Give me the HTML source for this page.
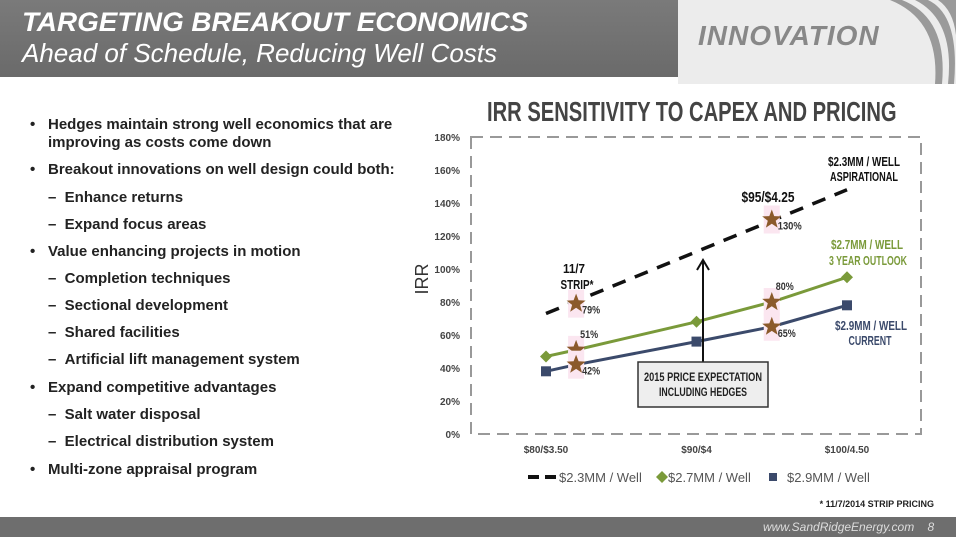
<!DOCTYPE html>
<html><head><meta charset="utf-8"><style>
body{margin:0;width:956px;height:537px;overflow:hidden;background:#fff;font-family:"Liberation Sans",sans-serif;position:relative}
.t{position:absolute;white-space:nowrap}
.b{font-size:15px;font-weight:bold;color:#222;line-height:18px}
</style></head><body>
<div style="position:absolute;left:0;top:0;width:700px;height:77px;background:linear-gradient(#7a7a7a,#6a6a6a)"></div>
<div style="position:absolute;left:678px;top:0;width:278px;height:84px;background:#ececec"></div>
<svg style="position:absolute;left:880px;top:0" width="76" height="84"><path d="M10 0 Q60 20 55 84 L62 84 Q68 18 22 0Z M35 0 Q75 20 68 84 L74 84 Q80 15 48 0Z M58 0 Q80 15 76 60 L76 0Z" fill="#9a9a9a"/></svg>
<div class="t" style="left:698px;top:20px;font-size:28px;font-weight:bold;font-style:italic;color:#888;letter-spacing:1px">INNOVATION</div>
<div class="t" style="left:22px;top:7px;font-size:27px;font-weight:bold;font-style:italic;color:#fff;transform:scaleX(1.03);transform-origin:left">TARGETING BREAKOUT ECONOMICS</div>
<div class="t" style="left:22px;top:38px;font-size:26px;font-style:italic;color:#fff">Ahead of Schedule, Reducing Well Costs</div>

<div>
<div class="t b" style="left:30px;top:116px">•</div><div class="t b" style="left:48px;top:116px">Hedges maintain strong well economics that are</div>
<div class="t b" style="left:48px;top:134px">improving as costs come down</div>
<div class="t b" style="left:30px;top:161px">•</div><div class="t b" style="left:48px;top:161px">Breakout innovations on well design could both:</div>
<div class="t b" style="left:48px;top:189px">–&nbsp;&nbsp;Enhance returns</div>
<div class="t b" style="left:48px;top:216px">–&nbsp;&nbsp;Expand focus areas</div>
<div class="t b" style="left:30px;top:243px">•</div><div class="t b" style="left:48px;top:243px">Value enhancing projects in motion</div>
<div class="t b" style="left:48px;top:270px">–&nbsp;&nbsp;Completion techniques</div>
<div class="t b" style="left:48px;top:297px">–&nbsp;&nbsp;Sectional development</div>
<div class="t b" style="left:48px;top:324px">–&nbsp;&nbsp;Shared facilities</div>
<div class="t b" style="left:48px;top:351px">–&nbsp;&nbsp;Artificial lift management system</div>
<div class="t b" style="left:30px;top:379px">•</div><div class="t b" style="left:48px;top:379px">Expand competitive advantages</div>
<div class="t b" style="left:48px;top:406px">–&nbsp;&nbsp;Salt water disposal</div>
<div class="t b" style="left:48px;top:433px">–&nbsp;&nbsp;Electrical distribution system</div>
<div class="t b" style="left:30px;top:461px">•</div><div class="t b" style="left:48px;top:461px">Multi-zone appraisal program</div>
</div>

<div class="t" style="left:487px;top:96px;font-size:28px;font-weight:bold;color:#444;transform:scaleX(.72);transform-origin:left">IRR SENSITIVITY TO CAPEX AND PRICING</div>

<svg id="chart" style="position:absolute;left:0;top:0" width="956" height="537"></svg>

<div style="position:absolute;left:0;top:517px;width:956px;height:20px;background:#6e6e6e"></div>
<div class="t" style="left:763px;top:520px;font-size:12px;font-style:italic;color:#ddd">www.SandRidgeEnergy.com &nbsp;&nbsp; 8</div>

<script>
const xCats=["$80/$3.50","$90/$4","$100/4.50"];
const xCatVals=[80,90,100];
const yTicks=[0,20,40,60,80,100,120,140,160,180];
const dashedX=[80,100];
const dashedY=[73,148];
const greenX=[80,82,90,95,100];
const greenY=[47,51,68,80,95];
const blueX=[80,82,90,95,100];
const blueY=[38,42,56,65,78];
const starX=[82,95,82,82,95,95];
const starY=[79,130,51,42,80,65];
const starLabels=["79%","130%","51%","42%","80%","65%"];

const svg=document.getElementById('chart');
const NS="http://www.w3.org/2000/svg";
const X=p=>546+(p-80)*15.05;
const Y=v=>434-v*1.65;
function mk(tag,attrs,parent){const e=document.createElementNS(NS,tag);for(const k in attrs)e.setAttribute(k,attrs[k]);(parent||svg).appendChild(e);return e;}
function txt(x,y,s,attrs,parent){const e=mk('text',Object.assign({x:x,y:y,'font-family':'Liberation Sans, sans-serif'},attrs),parent);e.textContent=s;return e;}

const frame=mk('rect',{x:471,y:137,width:450,height:297,fill:'none',stroke:'#999','stroke-width':2,'stroke-dasharray':'12 7'});


yTicks.forEach(v=>{const t=txt(460,Y(v)+4,v+'%',{'font-size':10,'font-weight':'bold','text-anchor':'end',fill:'#444'});

});
xCats.forEach((c,i)=>{const t=txt(X(xCatVals[i]),453,c,{'font-size':10,'font-weight':'bold','text-anchor':'middle',fill:'#444'});

});
const yt=txt(0,0,'IRR',{'font-size':18,fill:'#333','text-anchor':'middle',transform:'translate(428,279) rotate(-90)'});



const dl=mk('polyline',{points:dashedX.map((x,i)=>X(x)+','+Y(dashedY[i])).join(' '),fill:'none',stroke:'#111','stroke-width':3.5,'stroke-dasharray':'14 10'});


const gl=mk('polyline',{points:greenX.map((x,i)=>X(x)+','+Y(greenY[i])).join(' '),fill:'none',stroke:'#7a9a3a','stroke-width':3});


const bl=mk('polyline',{points:blueX.map((x,i)=>X(x)+','+Y(blueY[i])).join(' '),fill:'none',stroke:'#3b4a6b','stroke-width':3});


[0,2,4].forEach(i=>{const cx=X(greenX[i]),cy=Y(greenY[i]);
const d=mk('polygon',{points:`${cx},${cy-6} ${cx+6},${cy} ${cx},${cy+6} ${cx-6},${cy}`,fill:'#7a9a3a'});


const s=mk('rect',{x:X(blueX[i])-5,y:Y(blueY[i])-5,width:10,height:10,fill:'#3b4a6b'});

});

function starPts(cx,cy,R,r){let p=[];for(let k=0;k<10;k++){const a=-Math.PI/2+k*Math.PI/5,rr=k%2?r:R;p.push((cx+rr*Math.cos(a)).toFixed(1)+','+(cy+rr*Math.sin(a)).toFixed(1));}return p.join(' ');}
starX.forEach((x,i)=>{const cx=X(x),cy=Y(starY[i]);
mk('rect',{x:cx-8,y:cy-14,width:16,height:28,fill:'#fbe6f0'});
const s=mk('polygon',{points:starPts(cx,cy,10,4.2),fill:'#8b5a2b'});


const above=(starLabels[i]==='51%'||starLabels[i]==='80%');
const t=txt(cx+(above?4:6),cy+(above?-12:10),starLabels[i],{'font-size':11,'font-weight':'bold',fill:'#333',textLength:starLabels[i].length*6,lengthAdjust:'spacingAndGlyphs'});

});

const arr=mk('g',{});


mk('line',{x1:703,y1:362,x2:703,y2:262,stroke:'#111','stroke-width':2},arr);
mk('polyline',{points:'697,270 703,260 709,270',fill:'none',stroke:'#111','stroke-width':2},arr);
const box=mk('rect',{x:638,y:362,width:130,height:45,fill:'#eee',stroke:'#333','stroke-width':1.5});


txt(703,381,'2015 PRICE EXPECTATION',{'font-size':12,'font-weight':'bold','text-anchor':'middle',fill:'#222',textLength:118,lengthAdjust:'spacingAndGlyphs'});
txt(703,396,'INCLUDING HEDGES',{'font-size':12,'font-weight':'bold','text-anchor':'middle',fill:'#222',textLength:88,lengthAdjust:'spacingAndGlyphs'});

function lab(x,y,s,col,size,len,nm){const t=txt(x,y,s,{'font-size':size,'font-weight':'bold','text-anchor':'middle',fill:col,textLength:len,lengthAdjust:'spacingAndGlyphs'});

}
lab(864,166,'$2.3MM / WELL','#111',13,72,'annotation-2-3mm');
lab(864,181,'ASPIRATIONAL','#111',13,68,'annotation-2-3mm');
lab(768,202,'$95/$4.25','#111',15,53,'annotation-95');
lab(867,249,'$2.7MM / WELL','#7a9a3a',13,72,'annotation-2-7mm');
lab(868,265,'3 YEAR OUTLOOK','#7a9a3a',13,78,'annotation-2-7mm');
lab(871,330,'$2.9MM / WELL','#3b4a6b',13,72,'annotation-2-9mm');
lab(870,345,'CURRENT','#3b4a6b',13,43,'annotation-2-9mm');
lab(574,273,'11/7','#111',13,22,'annotation-strip');
lab(577,289,'STRIP*','#111',13,33,'annotation-strip');

const lg=mk('g',{});


mk('line',{x1:528,y1:477,x2:556,y2:477,stroke:'#111','stroke-width':4,'stroke-dasharray':'11 6'},lg);
txt(559,482,'$2.3MM / Well',{'font-size':13,fill:'#555'},lg);
mk('polygon',{points:'662,471 668,477 662,483 656,477',fill:'#7a9a3a'},lg);
txt(668,482,'$2.7MM / Well',{'font-size':13,fill:'#555'},lg);
mk('rect',{x:769,y:473,width:8,height:8,fill:'#3b4a6b'},lg);
txt(787,482,'$2.9MM / Well',{'font-size':13,fill:'#555'},lg);
const fn=txt(934,507,'* 11/7/2014 STRIP PRICING',{'font-size':9,'font-weight':'bold','text-anchor':'end',fill:'#222'});


</script>
</body></html>
